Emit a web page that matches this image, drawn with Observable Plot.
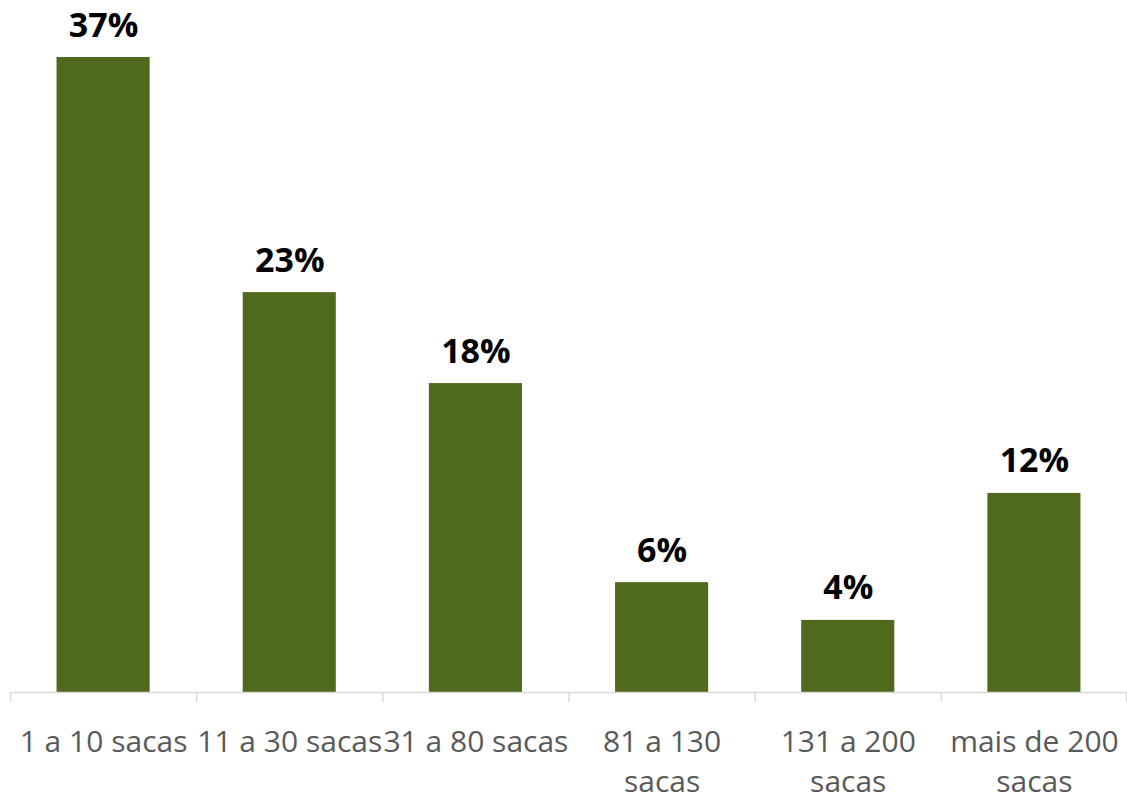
<!DOCTYPE html>
<html>
<head>
<meta charset="utf-8">
<script src="https://cdn.jsdelivr.net/npm/d3@7"></script>
<script src="https://cdn.jsdelivr.net/npm/@observablehq/plot@0.6"></script>
<style>
  html, body { margin: 0; padding: 0; background: #fff; }
  #chart svg { display: block; overflow: visible; }
</style>
</head>
<body>
<div id="chart"></div>
<script>
const categories = ["1 a 10 sacas", "11 a 30 sacas", "31 a 80 sacas", "81 a 130\nsacas", "131 a 200\nsacas", "mais de 200\nsacas"];
const values = [0.37, 0.233, 0.18, 0.064, 0.042, 0.116];
const valueLabels = ["37%", "23%", "18%", "6%", "4%", "12%"];

const data = categories.map((c, i) => ({cat: c, value: values[i], label: valueLabels[i]}));

const W = 1127, H = 798, mL = 10, mR = 0;
const step = (W - mL - mR) / categories.length;

const chart = Plot.plot({
  width: W,
  height: H,
  marginLeft: mL,
  marginRight: mR,
  marginTop: 57,
  marginBottom: 106,
  style: {fontFamily: "'Open Sans', 'Noto Sans', sans-serif", background: "#fff"},
  x: {domain: categories, paddingInner: 0.5, paddingOuter: 0.25, round: false, axis: null},
  y: {domain: [0, 0.37], axis: null},
  marks: [
    Plot.barY(data, {x: "cat", y: "value", fill: "#4f6a1d"}),
    Plot.ruleY([0], {stroke: "#d9d9d9", strokeWidth: 1.5}),
    Plot.ruleX(categories, {x: d => d, dx: -step / 2, y1: 0, y2: 0, insetBottom: -10, stroke: "#d9d9d9", strokeWidth: 1.5}),
    Plot.ruleX([categories[categories.length - 1]], {x: d => d, dx: step / 2 - 1, y1: 0, y2: 0, insetBottom: -10, stroke: "#d9d9d9", strokeWidth: 1.5}),
    Plot.text(data, {x: "cat", y: "value", text: "label", lineAnchor: "bottom", dy: -21, fontSize: 34, fontWeight: "bold", fill: "#000"}),
    Plot.text(data, {x: "cat", y: () => 0, text: "cat", lineAnchor: "top", dy: 31, fontSize: 30, lineHeight: 1.33, fill: "#595959"})
  ]
});
document.getElementById("chart").append(chart);
</script>
</body>
</html>
